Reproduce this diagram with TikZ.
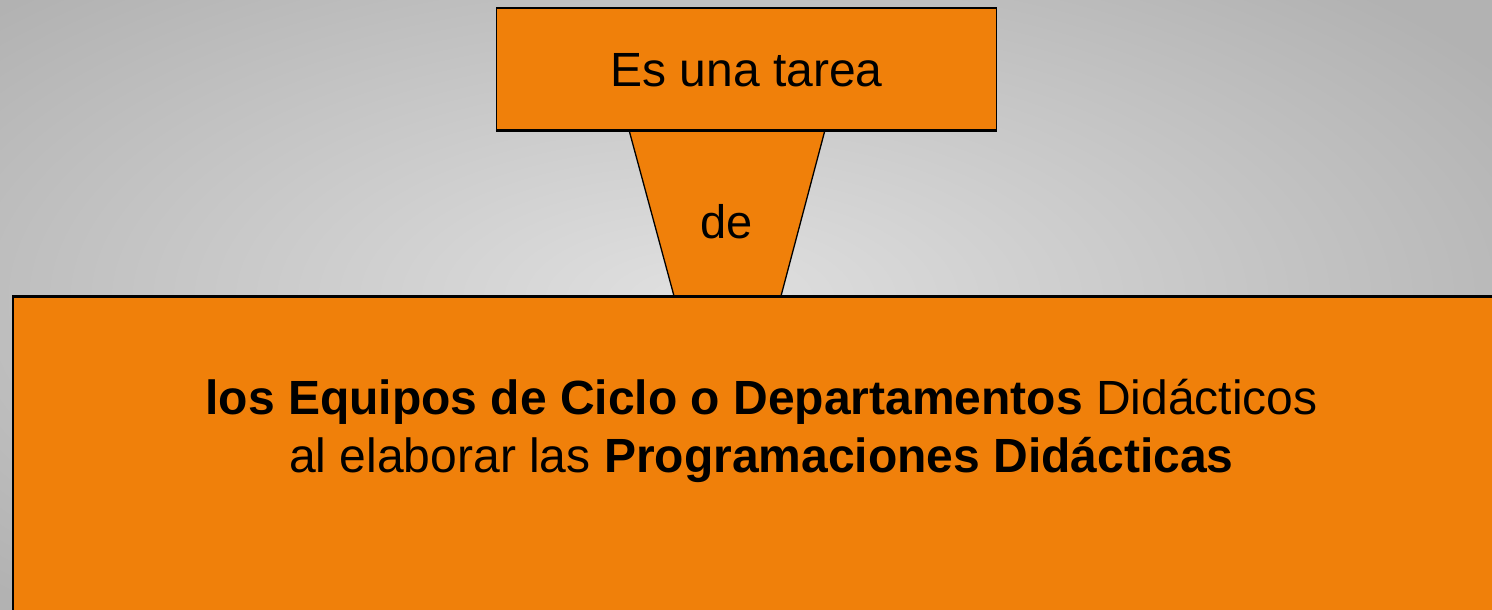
\documentclass[tikz,border=0pt]{standalone}
\usepackage{fontspec}
\setmainfont{Liberation Sans}
\definecolor{orangebox}{RGB}{240,128,10}
\definecolor{bginner}{RGB}{224,224,224}
\definecolor{bgouter}{RGB}{178,178,178}
\tikzset{
  box/.style={draw=black, fill=orangebox, line width=1.6pt, inner sep=0pt},
  edge/.style={line width=1.3pt, line cap=round},
  txt/.style={inner sep=0pt, text=black},
}
\begin{document}
\begin{tikzpicture}[x=1pt,y=-1pt]
\useasboundingbox (0,0) rectangle (1492,610);
\clip (0,0) rectangle (1492,610);
\shade[inner color=bginner, outer color=bgouter] (-250,-130) rectangle (1650,730);
% top box
\node[box, minimum width=500pt, minimum height=122pt] (top) at (746.5,69) {};
% main box
\node[box, minimum width=1499pt, minimum height=420pt, anchor=north west] (main) at (12,296) {};
% funnel / trapezoid
\coordinate (tl) at (629,130);
\coordinate (tr) at (825,130);
\coordinate (bl) at (674,296);
\coordinate (br) at (781,296);
\fill[orangebox] (tl) -- (tr) -- (br) -- (bl) -- cycle;
\draw[edge] (tl) -- (bl);
\draw[edge] (tr) -- (br);
\draw[line width=1.6pt] (top.south west) -- (top.south east);
\draw[line width=1.6pt] (main.north west) -- (main.north east);
% texts
\node[txt, anchor=base, font=\fontsize{48}{58}\selectfont] (t1) at (746.5,87) {Es una tarea};
\node[txt, anchor=base, font=\fontsize{47}{58}\selectfont] (t2) at (727,238) {de};
\node[txt, anchor=base, font=\fontsize{48}{58}\selectfont] (l1) at (761.5,414) {\textbf{los Equipos de Ciclo o Departamentos} Didácticos};
\node[txt, anchor=base, font=\fontsize{48}{58}\selectfont] (l2) at (761.5,472) {al elaborar las \textbf{Programaciones Didácticas}};
\end{tikzpicture}
\end{document}
